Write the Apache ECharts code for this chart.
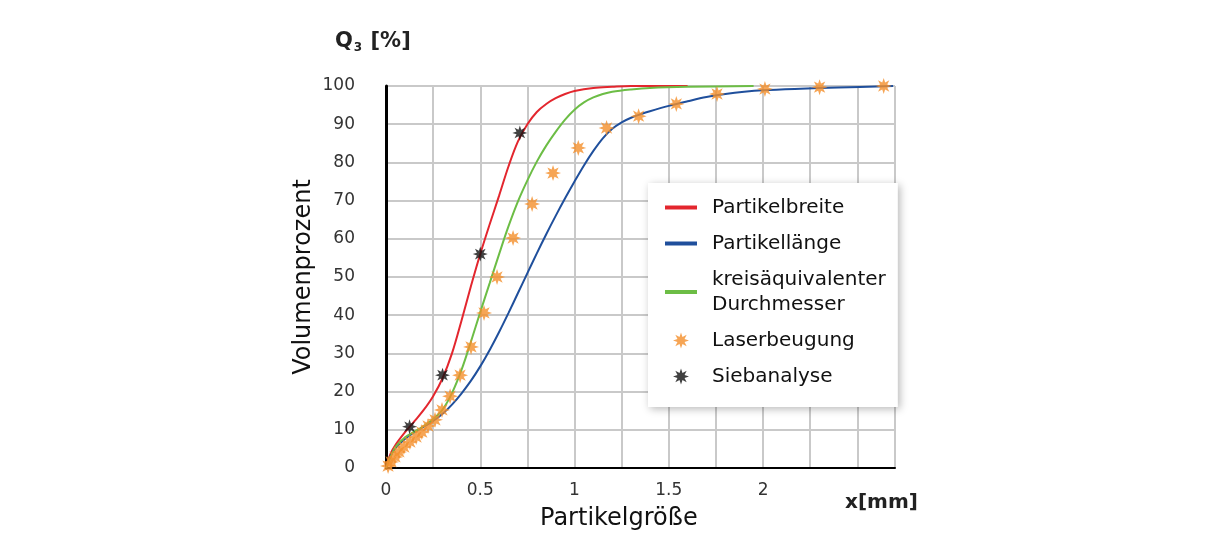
<!DOCTYPE html>
<html>
<head>
<meta charset="utf-8">
<script src="https://cdn.jsdelivr.net/npm/echarts@6/dist/echarts.min.js"></script>
<style>
html,body{margin:0;padding:0;background:#fff;}
#c{width:1211px;height:552px;}
</style>
</head>
<body>
<div id="c"></div>
<script>
// Data (x in mm, y in volume %)
const breiteX = [0,0.025,0.05,0.1,0.15,0.2,0.25,0.3,0.35,0.4,0.45,0.5,0.55,0.6,0.65,0.7,0.75,0.8,0.85,0.9,0.95,1.0,1.1,1.2,1.3,1.6];
const breiteY = [0,3.8,6,9.3,12.2,15.2,18.8,23.5,30,38.5,47.5,56,63.8,71.3,79,85.5,90,93.2,95.3,96.8,97.9,98.7,99.5,99.8,100,100];

const laengeX = [0,0.025,0.05,0.1,0.15,0.2,0.25,0.3,0.35,0.4,0.45,0.5,0.55,0.6,0.65,0.7,0.75,0.8,0.85,0.9,0.95,1.0,1.05,1.1,1.15,1.2,1.25,1.3,1.35,1.4,1.5,1.6,1.7,1.8,1.9,2.0,2.2,2.4,2.69];
const laengeY = [0,3.2,5.2,7.6,9.3,10.8,12.3,14.2,16.6,19.5,22.8,26.6,30.9,35.6,40.6,45.8,51,56.2,61.2,66,70.6,75,79.2,83,86.3,88.8,90.5,91.7,92.6,93.4,94.8,96,97.1,97.9,98.5,98.9,99.3,99.6,100];

const kreisX = [0,0.025,0.05,0.1,0.15,0.2,0.25,0.3,0.35,0.4,0.45,0.5,0.55,0.6,0.65,0.7,0.75,0.8,0.85,0.9,0.95,1.0,1.05,1.1,1.15,1.2,1.3,1.4,1.6,1.95];
const kreisY = [0,3,5.5,8,9.5,11,12.8,15.3,19.6,25.6,33,40.8,48.4,56,63.3,69.8,75.3,80.2,84.4,88,91.2,93.8,95.7,97,97.9,98.5,99.1,99.5,99.8,100];

const laserX = [0.011,0.027,0.048,0.069,0.095,0.127,0.16,0.19,0.223,0.26,0.297,0.34,0.393,0.451,0.52,0.589,0.674,0.775,0.886,1.02,1.17,1.34,1.54,1.756,2.01,2.30,2.64];
const laserY = [0.5,1.6,2.9,4.2,5.5,6.8,8.1,9.4,11,12.6,15.2,18.8,24.3,31.7,40.6,50,60.2,69.1,77.2,83.8,89,92.1,95.3,97.9,99.2,99.7,100];

const siebX = [0.125,0.3,0.5,0.71];
const siebY = [10.8,24.3,56,87.7];

const xTickLabels = [0,0.5,1,1.5,2];
const yTicks = [0,10,20,30,40,50,60,70,80,90,100];

const names = ['Partikelbreite','Partikellänge','kreisäquivalenter\nDurchmesser','Laserbeugung','Siebanalyse'];

const zip = (a,b)=>a.map((v,i)=>[v,b[i]]);
const star = 'path://M50,0 L59.18,27.83 L85.36,14.64 L72.17,40.82 L100,50 L72.17,59.18 L85.36,85.36 L59.18,72.17 L50,100 L40.82,72.17 L14.64,85.36 L27.83,59.18 L0,50 L27.83,40.82 L14.64,14.64 L40.82,27.83 Z';
const lineIcon = 'path://M0,0 L32,0 L32,4 L0,4 Z';

const cRed='#e3262e', cBlue='#1f4f9c', cGreen='#6cbd45', cOrange='#f48e2a', cBlack='#111111';
const tickFont = 'DejaVu Sans';
const titleFont = 'DejaVu Sans';

const chart = echarts.init(document.getElementById('c'), null, {renderer:'canvas'});
chart.setOption({
  animation:false,
  backgroundColor:'#ffffff',
  grid:{left:386,right:316,top:86,bottom:84,containLabel:false},
  xAxis:{
    type:'value',min:0,max:2.7,interval:0.25,
    axisLine:{show:true,lineStyle:{color:'#000',width:2}},
    axisTick:{show:false},
    splitLine:{show:true,lineStyle:{color:'#c9c9c9',width:2}},
    axisLabel:{
      margin:14,fontSize:17,color:'#333',fontFamily:tickFont,
      formatter:v=> xTickLabels.indexOf(v)>=0 ? String(v) : ''
    }
  },
  yAxis:{
    type:'value',min:0,max:100,interval:10,
    name:'Volumenprozent',nameLocation:'middle',nameGap:70,nameRotate:90,
    nameTextStyle:{fontSize:24,color:'#111',fontFamily:titleFont},
    axisLine:{show:true,lineStyle:{color:'#000',width:3}},
    axisTick:{show:false},
    splitLine:{show:true,lineStyle:{color:'#c9c9c9',width:2}},
    axisLabel:{margin:31,fontSize:17,color:'#333',fontFamily:tickFont,
      formatter:v=> yTicks.indexOf(v)>=0 ? String(v) : ''}
  },
  legend:{
    orient:'vertical',left:648,top:183,
    padding:[12,12,18,17],itemGap:11,itemWidth:32,itemHeight:16,
    symbolKeepAspect:true,
    backgroundColor:'#ffffff',
    shadowBlur:8,shadowColor:'rgba(0,0,0,0.28)',shadowOffsetX:2,shadowOffsetY:2,
    textStyle:{fontSize:20,color:'#111',fontFamily:titleFont,lineHeight:25,padding:[0,0,0,10]},
    data:[
      {name:names[0],icon:lineIcon,itemStyle:{color:cRed}},
      {name:names[1],icon:lineIcon,itemStyle:{color:cBlue}},
      {name:names[2],icon:lineIcon,itemStyle:{color:cGreen}},
      {name:names[3]},
      {name:names[4]}
    ]
  },
  graphic:[
    {type:'text',left:335,top:31,style:{
      text:'{a|Q}{b|3}{a| [%]}',
      rich:{a:{fontSize:21,fontWeight:'bold',fontFamily:tickFont,fill:'#222'},
            b:{fontSize:12,fontWeight:'bold',fontFamily:tickFont,fill:'#222',padding:[12,1,0,1]}}
    }},
    {type:'text',left:845,top:493,style:{text:'x[mm]',fontSize:20,fontWeight:'bold',fontFamily:tickFont,fill:'#222'}},
    {type:'text',left:540,top:507,style:{text:'Partikelgröße',fontSize:24,fontFamily:titleFont,fill:'#111'}}
  ],
  series:[
    {name:names[0],type:'line',data:zip(breiteX,breiteY),showSymbol:false,symbol:'none',smooth:0.35,
      lineStyle:{color:cRed,width:2},itemStyle:{color:cRed},z:2},
    {name:names[1],type:'line',data:zip(laengeX,laengeY),showSymbol:false,symbol:'none',smooth:0.35,
      lineStyle:{color:cBlue,width:2},itemStyle:{color:cBlue},z:2},
    {name:names[2],type:'line',data:zip(kreisX,kreisY),showSymbol:false,symbol:'none',smooth:0.35,
      lineStyle:{color:cGreen,width:2},itemStyle:{color:cGreen},z:2},
    {name:names[3],type:'scatter',data:zip(laserX,laserY),symbol:star,symbolSize:16,
      itemStyle:{color:cOrange},z:4},
    {name:names[4],type:'scatter',data:zip(siebX,siebY),symbol:star,symbolSize:15,
      itemStyle:{color:cBlack},z:5}
  ]
});
</script>
</body>
</html>
